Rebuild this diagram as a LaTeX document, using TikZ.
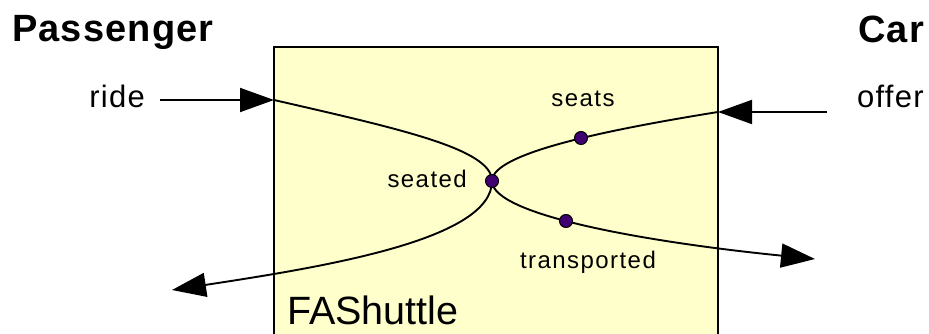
\documentclass[tikz,border=0pt]{standalone}
\usepackage{fontspec}
\setmainfont{Liberation Sans}
\newfontfamily\tagfont[LetterSpace=6]{Liberation Sans}
\newfontfamily\msgfont[LetterSpace=4]{Liberation Sans}
\newfontfamily\rolefont[LetterSpace=3]{Liberation Sans}
\usetikzlibrary{arrows.meta}
\definecolor{shuttlefill}{HTML}{FFFFCC}
\definecolor{portfill}{HTML}{400070}

\begin{document}
\begin{tikzpicture}[x=1pt,y=1pt,
  flow/.style={line width=1.9pt, -{Triangle[length=34pt,width=24pt]}},
  port/.style={circle, draw=black, line width=1pt, fill=portfill,
               minimum size=13pt, inner sep=0pt},
  role/.style={font=\rolefont\bfseries\fontsize{38}{40}\selectfont, inner sep=0pt},
  msg/.style={font=\msgfont\fontsize{31}{33}\selectfont, inner sep=0pt},
  tag/.style={font=\tagfont\fontsize{24}{26}\selectfont, inner sep=0pt},
  title/.style={font=\fontsize{39.5}{41}\selectfont, inner sep=0pt}]
\useasboundingbox (0,0) rectangle (929,334);
\clip (0,0) rectangle (929,334);

% collaboration box (runs off the bottom edge)
\draw[line width=1.3pt, fill=shuttlefill] (274,-20) rectangle (718,287);
\node[title, anchor=base west] (shuttle) at (287,9) {FAShuttle};

% role names
\node[role, anchor=base west] (passenger) at (12,292) {Passenger};
\node[role, anchor=base west] (car) at (858,291) {Car};

% messages
\node[msg, anchor=base east] (ride) at (145,226) {ride};
\node[msg, anchor=base west] (offer) at (857,226) {offer};

% connection points
\coordinate (rideIn) at (274,234);
\coordinate (offerIn) at (718,222);
\coordinate (pSeated) at (492,153);
\coordinate (pSeats) at (581,196);
\coordinate (pTransp) at (566,113);
\coordinate (outL) at (172,44);
\coordinate (outR) at (815,75);

% incoming messages
\draw[flow] ([xshift=15pt]ride.east |- rideIn) -- (rideIn);
\draw[flow] ([xshift=-30pt]offer.west |- offerIn) -- (offerIn);

% passenger flow
\draw[flow] (rideIn) .. controls (400,205) and (492,185) .. (pSeated)
            .. controls (492,95) and (330,68) .. (outL);
% car flow
\draw[flow] (offerIn) .. controls (600,203) and (492,180) .. (pSeated)
            .. controls (492,118) and (655,91) .. (outR);

% ports
\node[port] (seated) at (pSeated) {};
\node[port] (seats) at (pSeats) {};
\node[port] (transp) at (pTransp) {};

% port labels
\node[tag, anchor=base east] (seatedLbl) at (467,146) {seated};
\node[tag, anchor=base] (seatsLbl) at (583,227) {seats};
\node[tag, anchor=base] (transpLbl) at (588,65) {transported};
\end{tikzpicture}
\end{document}
